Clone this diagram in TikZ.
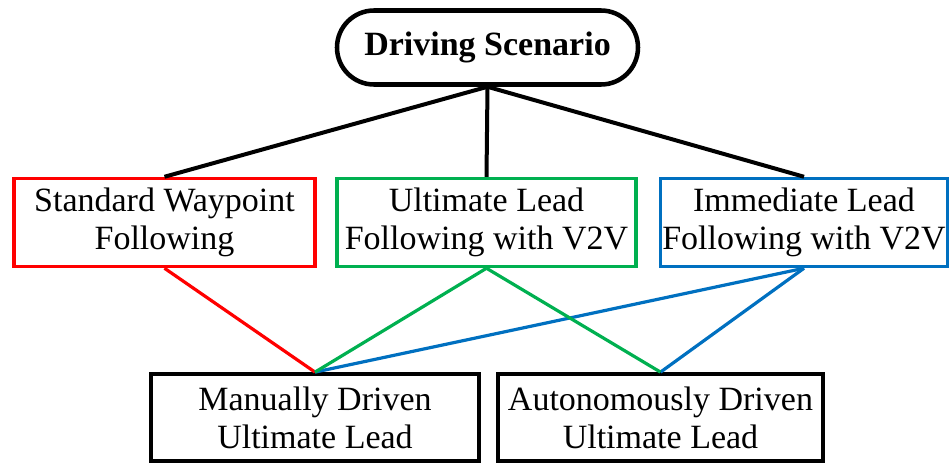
\documentclass[tikz,border=0pt]{standalone}
\usepackage{fontspec}
\setmainfont{Liberation Serif}
\usetikzlibrary{shapes.misc}
\definecolor{cred}{RGB}{255,0,0}
\definecolor{cgreen}{RGB}{0,176,80}
\definecolor{cblue}{RGB}{0,112,192}
\tikzset{
  box/.style={draw, fill=white, line width=2.6pt, inner sep=0pt, align=center,
    font=\fontsize{25.5}{28.5}\selectfont, minimum height=66pt},
  pill/.style={rounded rectangle, draw, fill=white, line width=3.4pt, inner sep=0pt,
    font=\fontsize{25.5}{28.5}\selectfont\bfseries, minimum width=225.75pt, minimum height=55.5pt},
  blk/.style={draw=black, line width=3pt},
  col/.style={line width=2.4pt}
}
\begin{document}
\begin{tikzpicture}[x=0.75pt,y=-0.75pt]
\useasboundingbox (0,0) rectangle (951,465);
\node[pill] (ds) at (487.5,47.5) {Driving Scenario};
\node[box, draw=cred, minimum width=225.75pt] (swf) at (164.5,222.5) {Standard Waypoint\\Following};
\node[box, draw=cgreen, minimum width=224pt] (ulf) at (486.5,222.5) {Ultimate Lead\\Following with V2V};
\node[box, draw=cblue, minimum width=215.5pt] (ilf) at (804,222.5) {Immediate Lead\\Following with V2V};
\node[box, draw=black, minimum width=246pt, minimum height=65.5pt] (mdu) at (315,417.5) {Manually Driven\\Ultimate Lead};
\node[box, draw=black, minimum width=244pt, minimum height=65.5pt] (adu) at (660.5,417.5) {Autonomously Driven\\Ultimate Lead};
\draw[blk] (ds.south) -- (swf.north);
\draw[blk] (ds.south) -- (ulf.north);
\draw[blk] (ds.south) -- (ilf.north);
\draw[col, cred] (swf.south) -- (mdu.north);
\draw[col, cblue] (ilf.south) -- (mdu.north);
\draw[col, cblue] (ilf.south) -- (adu.north);
\draw[col, cgreen] (ulf.south) -- (mdu.north);
\draw[col, cgreen] (ulf.south) -- (adu.north);
\end{tikzpicture}
\end{document}
